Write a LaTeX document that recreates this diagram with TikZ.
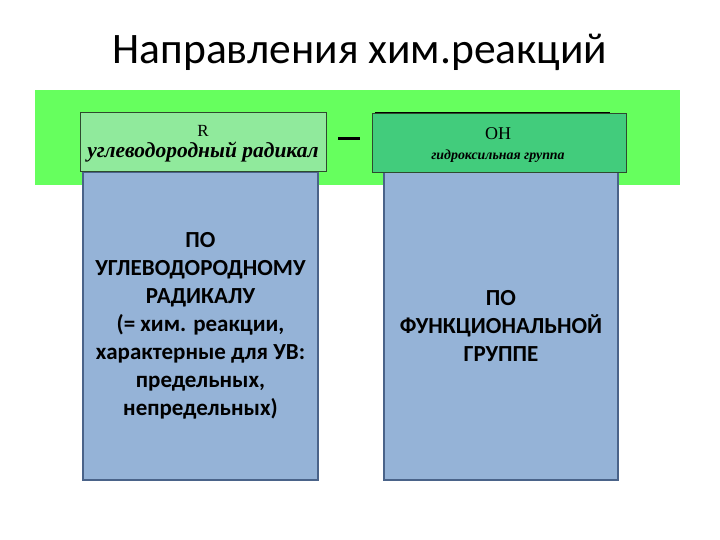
\documentclass[tikz,border=0pt]{standalone}
\usepackage{fontspec}
\setmainfont{Carlito}
\newfontfamily\serifr{Liberation Serif}
\definecolor{bandgreen}{HTML}{66FF5E}
\definecolor{lightg}{HTML}{90EA9C}
\definecolor{midg}{HTML}{42CC7C}
\definecolor{boxblue}{HTML}{95B3D7}
\definecolor{boxedge}{HTML}{4A6389}
\definecolor{hdredge}{HTML}{2E4A2E}
\begin{document}
\begin{tikzpicture}[x=1pt,y=-1pt,
  bluebox/.style={draw=boxedge,line width=1.5pt,fill=boxblue},
  bodytext/.style={align=center,font=\fontsize{23}{28}\selectfont\bfseries,inner sep=0pt},
  hdrtext/.style={inner sep=0pt},
  hdrbox/.style={draw=hdredge,line width=1pt}]
\useasboundingbox (0,0) rectangle (720,540);
\fill[white] (0,0) rectangle (720,540);
\node (title) at (360,52) {\fontsize{43.5}{46}\selectfont Направления хим.реакций};
\fill[bandgreen] (35,90) rectangle (680,185);
% blue boxes
\draw[bluebox] (83,172) rectangle (318,480);
\node[bodytext] (ltext) at (200.5,326)
  {ПО\\УГЛЕВОДОРОДНОМУ\\РАДИКАЛУ\\(= хим. реакции,\\характерные для УВ:\\предельных,\\непредельных)};
\draw[bluebox] (384,172) rectangle (618,480);
\node[bodytext] (rtext) at (501,326)
  {ПО\\ФУНКЦИОНАЛЬНОЙ\\ГРУППЕ};
% header boxes
\draw[hdrbox,fill=lightg] (80,113) rectangle (326,172);
\node[hdrtext] (R) at (203,131) {\serifr\fontsize{17}{19}\selectfont R};
\node[hdrtext] (rad) at (203,152) {\serifr\bfseries\itshape\fontsize{21.5}{23}\selectfont углеводородный радикал};
\fill[black] (338,137) rectangle (360,140);
\draw[black,line width=0.8pt] (375,112) -- (610,112);
\draw[hdrbox,fill=midg] (372,114) rectangle (626,173);
\node[hdrtext] (OH) at (498,134) {\serifr\fontsize{18}{20}\selectfont OH};
\node[hdrtext] (grp) at (498,156) {\serifr\bfseries\itshape\fontsize{13.9}{15}\selectfont гидроксильная группа};
\end{tikzpicture}
\end{document}
